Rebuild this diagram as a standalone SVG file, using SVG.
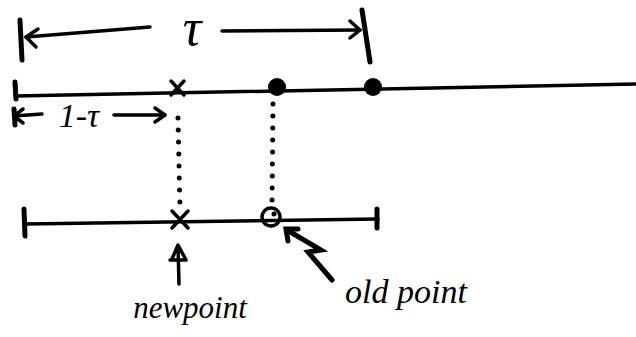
<svg xmlns="http://www.w3.org/2000/svg" width="636" height="337" viewBox="0 0 636 337">
<defs>
<style>
.ln{stroke:#000;stroke-width:3.5;fill:none;stroke-linecap:round;stroke-linejoin:round}
.th{stroke:#000;stroke-width:5;fill:none;stroke-linecap:round}
.dot{stroke:#000;stroke-width:5;fill:none;stroke-linecap:round;stroke-dasharray:0 12}
.t{font-family:"Liberation Serif",serif;font-style:italic;fill:#000}
</style>
</defs>
<rect width="636" height="337" fill="#fff"/>
<g id="tau-bracket">
<path class="th" d="M20 20 L22 60"/>
<path class="ln" d="M26 37 L150 27"/>
<path class="ln" d="M38 29 L26 37 L36 47"/>
<text class="t" x="192" y="45" font-size="52" text-anchor="middle">τ</text>
<path class="ln" d="M222 31 L360 30"/>
<path class="ln" d="M350 21 L360 30 L350 38"/>
<path class="th" d="M362 10 L370 62"/>
</g>
<g id="main-line">
<path class="ln" d="M15 96 L636 84"/>
<path class="th" d="M15 82 L16 99"/>
<path class="ln" d="M171 81 L184 95 M184 81 L171 95"/>
<circle cx="277" cy="87" r="9"/>
<circle cx="373" cy="87" r="9"/>
</g>
<g id="one-minus-tau">
<path class="ln" d="M14 116 L42 114"/>
<path class="ln" d="M23 109 L14 116 L23 123"/>
<path class="th" d="M14 109 L15 125"/>
<text class="t" x="79" y="127" font-size="34" text-anchor="middle">1-τ</text>
<path class="ln" d="M114 115 L165 115"/>
<path class="ln" d="M155 108 L165 115 L155 122"/>
</g>
<g id="connectors">
<path class="dot" d="M178 118 L180 210"/>
<path class="dot" d="M273 104 L272 205"/>
</g>
<g id="bottom-line">
<path class="ln" d="M25 224 L378 219"/>
<path class="th" d="M24 209 L25 236"/>
<path class="th" d="M377 209 L377 228"/>
<path class="ln" d="M172 211 L188 228 M188 211 L172 228"/>
<circle cx="271" cy="217" r="9" class="ln"/>
<circle cx="274" cy="214" r="2.5"/>
</g>
<g id="newpoint">
<path class="ln" d="M179 284 L178 246"/>
<path class="ln" d="M172 259 L178 245 L186 260 L170 260"/>
<text class="t" x="190" y="318" font-size="31" text-anchor="middle">newpoint</text>
</g>
<g id="oldpoint">
<path class="th" d="M332 280 L308 252 L321 250 L287 230"/>
<path class="th" d="M288 241 L286 229 L298 229"/>
<text class="t" x="406" y="303" font-size="34" text-anchor="middle">old point</text>
</g>
</svg>
